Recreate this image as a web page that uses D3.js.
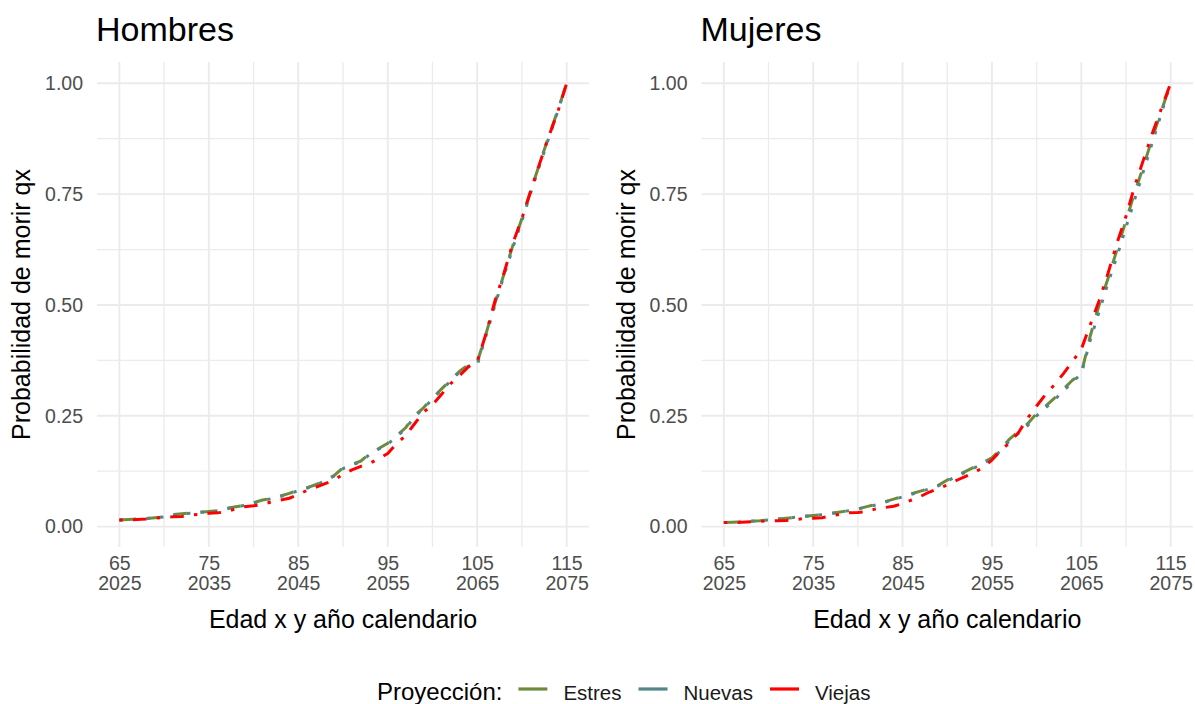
<!DOCTYPE html>
<html>
<head>
<meta charset="utf-8">
<script src="https://cdn.jsdelivr.net/npm/d3@7"></script>
<style>
  body { margin: 0; background: #fff; }
  svg text { font-family: "Liberation Sans", Arial, sans-serif; }
</style>
</head>
<body>
<svg id="chart" width="1195" height="704"></svg>
<script>
// Edad x (y año calendario asociado)
const ages = [65,66,67,68,69,70,71,72,73,74,75,76,77,78,79,80,81,82,83,84,85,86,87,88,89,90,
              91,92,93,94,95,96,97,98,99,100,101,102,103,104,105,106,107,108,109,110,111,112,113,114,115];

// Probabilidad de morir qx — Hombres
const hombresEstres = [0.015,0.016,0.017,0.018,0.020,0.022,0.027,0.029,0.031,0.032,0.034,0.036,0.041,0.045,0.048,
  0.054,0.060,0.063,0.069,0.075,0.082,0.088,0.095,0.105,0.115,0.133,0.140,0.148,0.165,0.176,0.188,0.205,0.223,0.250,
  0.268,0.290,0.310,0.330,0.350,0.365,0.370,0.436,0.505,0.570,0.635,0.695,0.758,0.820,0.880,0.938,1.000];
const hombresNuevas = [0.015,0.016,0.017,0.018,0.020,0.022,0.026,0.029,0.030,0.032,0.034,0.036,0.040,0.045,0.048,
  0.053,0.059,0.063,0.068,0.074,0.081,0.087,0.094,0.104,0.114,0.131,0.139,0.147,0.163,0.175,0.186,0.203,0.221,0.248,
  0.266,0.288,0.308,0.328,0.348,0.362,0.364,0.432,0.500,0.566,0.630,0.690,0.754,0.816,0.876,0.936,1.000];
const hombresViejas = [0.015,0.015,0.016,0.017,0.019,0.021,0.022,0.023,0.026,0.028,0.030,0.031,0.034,0.040,0.045,
  0.047,0.050,0.056,0.060,0.064,0.072,0.082,0.089,0.097,0.105,0.118,0.128,0.136,0.143,0.153,0.165,0.187,0.205,0.232,
  0.258,0.275,0.298,0.322,0.340,0.360,0.372,0.436,0.510,0.572,0.640,0.695,0.758,0.820,0.880,0.935,1.000];

// Probabilidad de morir qx — Mujeres
const mujeresEstres = [0.009,0.010,0.011,0.012,0.013,0.015,0.017,0.019,0.021,0.023,0.025,0.027,0.030,0.033,0.036,
  0.040,0.045,0.050,0.056,0.062,0.068,0.074,0.080,0.086,0.093,0.105,0.115,0.124,0.134,0.145,0.155,0.175,0.198,0.215,
  0.232,0.255,0.272,0.290,0.310,0.330,0.345,0.430,0.500,0.560,0.625,0.690,0.755,0.815,0.880,0.940,1.000];
const mujeresNuevas = [0.009,0.010,0.011,0.012,0.013,0.015,0.017,0.019,0.021,0.023,0.025,0.027,0.030,0.033,0.036,
  0.040,0.044,0.049,0.055,0.061,0.067,0.073,0.079,0.085,0.092,0.103,0.113,0.122,0.132,0.143,0.152,0.172,0.194,0.211,
  0.228,0.250,0.268,0.286,0.306,0.326,0.345,0.420,0.485,0.550,0.610,0.675,0.740,0.805,0.870,0.935,1.000];
const mujeresViejas = [0.009,0.009,0.010,0.011,0.012,0.013,0.013,0.014,0.016,0.018,0.019,0.020,0.024,0.028,0.031,
  0.032,0.034,0.040,0.043,0.046,0.052,0.060,0.068,0.078,0.086,0.094,0.104,0.113,0.122,0.133,0.150,0.172,0.190,0.213,
  0.245,0.272,0.298,0.320,0.345,0.372,0.400,0.455,0.510,0.572,0.640,0.700,0.770,0.830,0.890,0.945,1.000];

// Ejes
const xTickAges  = [65, 75, 85, 95, 105, 115];
const xTickYears = ["2025", "2035", "2045", "2055", "2065", "2075"];
const xMinorAges = [70, 80, 90, 100, 110];
const yTicks      = [0, 0.25, 0.5, 0.75, 1];
const yTickLabels = ["0.00", "0.25", "0.50", "0.75", "1.00"];
const yMinor      = [0.125, 0.375, 0.625, 0.875];

// Series y leyenda
const seriesNames  = ["Estres", "Nuevas", "Viejas"];
const seriesColors = ["#6e8b3d", "#53868b", "#ff0000"];
const panelTitles  = ["Hombres", "Mujeres"];

const svg = d3.select("#chart");

// Geometría de cada panel
const panelTop = 62, panelBottom = 547;
const panels = [
  { title: panelTitles[0], left: 97,    right: 589,  data: [hombresEstres, hombresNuevas, hombresViejas] },
  { title: panelTitles[1], left: 701.5, right: 1193, data: [mujeresEstres, mujeresNuevas, mujeresViejas] }
];
const dashes = ["13.6,13.6", "3.4,10.2", "3.4,10.2,13.6,10.2"];

panels.forEach(p => {
  const x = d3.scaleLinear().domain([62.5, 117.5]).range([p.left, p.right]);
  const y = d3.scaleLinear().domain([-0.046, 1.048]).range([panelBottom, panelTop]);
  const g = svg.append("g");

  // Rejilla menor y mayor
  const grid = g.append("g");
  grid.selectAll(".vmin").data(xMinorAges).join("line")
    .attr("x1", d => x(d)).attr("x2", d => x(d)).attr("y1", panelTop).attr("y2", panelBottom)
    .attr("stroke", "#ebebeb").attr("stroke-width", 1.3);
  grid.selectAll(".hmin").data(yMinor).join("line")
    .attr("y1", d => y(d)).attr("y2", d => y(d)).attr("x1", p.left).attr("x2", p.right)
    .attr("stroke", "#ebebeb").attr("stroke-width", 1.3);
  grid.selectAll(".vmaj").data(xTickAges).join("line")
    .attr("x1", d => x(d)).attr("x2", d => x(d)).attr("y1", panelTop).attr("y2", panelBottom)
    .attr("stroke", "#ebebeb").attr("stroke-width", 1.9);
  grid.selectAll(".hmaj").data(yTicks).join("line")
    .attr("y1", d => y(d)).attr("y2", d => y(d)).attr("x1", p.left).attr("x2", p.right)
    .attr("stroke", "#ebebeb").attr("stroke-width", 1.9);

  // Eje Y
  const yAxis = g.append("g").attr("transform", `translate(${p.left},0)`)
    .call(d3.axisLeft(y).tickValues(yTicks).tickSize(0).tickPadding(14)
      .tickFormat((d, i) => yTickLabels[i]));
  yAxis.select(".domain").remove();
  yAxis.selectAll("text").attr("font-size", 19.5).attr("fill", "#4d4d4d")
    .attr("font-family", "Liberation Sans, Arial, sans-serif");

  // Eje X (edad y año calendario)
  const xAxis = g.append("g").attr("transform", `translate(0,${panelBottom})`)
    .call(d3.axisBottom(x).tickValues(xTickAges).tickSize(0).tickFormat(""));
  xAxis.select(".domain").remove();
  xAxis.selectAll(".tick text").each(function(d, i) {
    const t = d3.select(this).attr("y", 0).attr("dy", null)
      .attr("font-size", 19.5).attr("fill", "#4d4d4d")
      .attr("font-family", "Liberation Sans, Arial, sans-serif");
    t.append("tspan").attr("x", 0).attr("y", 23).text(d);
    t.append("tspan").attr("x", 0).attr("y", 43).text(xTickYears[i]);
  });

  // Curvas
  const line = d3.line().x((d, i) => x(ages[i])).y(d => y(d));
  p.data.forEach((vals, k) => {
    g.append("path").datum(vals)
      .attr("d", line)
      .attr("fill", "none")
      .attr("stroke", seriesColors[k])
      .attr("stroke-width", 3)
      .attr("stroke-dasharray", dashes[k])
      .attr("stroke-linecap", "butt")
      .attr("stroke-linejoin", "round");
  });

  // Títulos
  g.append("text").attr("x", p.left - 1).attr("y", 41)
    .attr("font-size", 34).attr("fill", "#000").text(p.title);
  g.append("text").attr("x", (p.left + p.right) / 2).attr("y", 628)
    .attr("text-anchor", "middle").attr("font-size", 25).attr("fill", "#000")
    .text("Edad x y año calendario");
  g.append("text")
    .attr("transform", `translate(${p.left - 67},${(panelTop + panelBottom) / 2}) rotate(-90)`)
    .attr("text-anchor", "middle").attr("font-size", 25).attr("fill", "#000")
    .text("Probabilidad de morir qx");
});

// Leyenda
const legend = svg.append("g").attr("transform", "translate(377,700)");
const legTitle = legend.append("text").attr("x", 0).attr("y", 0)
  .attr("font-size", 24).attr("fill", "#000").text("Proyección:");
let cx = legTitle.node().getComputedTextLength() + 16;
seriesNames.forEach((name, k) => {
  legend.append("line").attr("x1", cx).attr("x2", cx + 29).attr("y1", -11).attr("y2", -11)
    .attr("stroke", seriesColors[k]).attr("stroke-width", 3.2);
  cx += 29 + 16;
  const t = legend.append("text").attr("x", cx).attr("y", 0)
    .attr("font-size", 20.5).attr("fill", "#1a1a1a").text(name);
  cx += t.node().getComputedTextLength() + 17;
});
</script>
</body>
</html>
